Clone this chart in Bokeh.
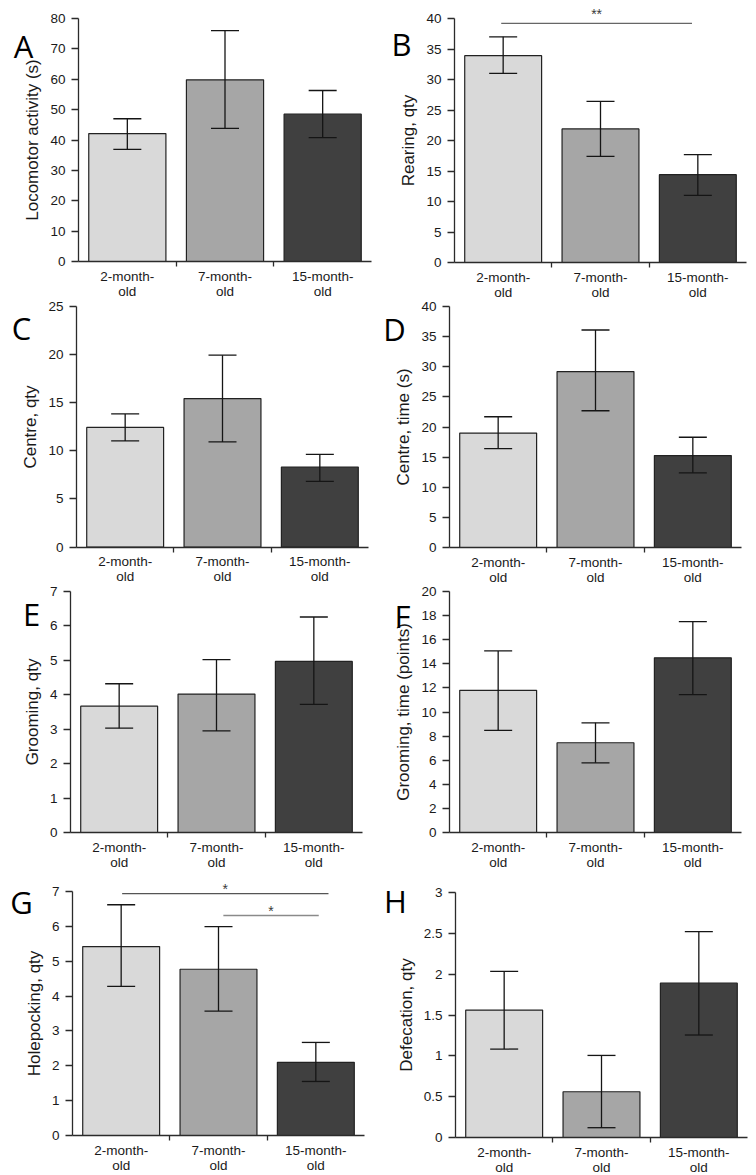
from bokeh.plotting import figure
from bokeh.models import Range1d, FixedTicker, Whisker, TeeHead, ColumnDataSource, Label
from bokeh.layouts import column, row
from bokeh.embed import file_html
from bokeh.resources import INLINE

# ---------------- data ----------------
categories = ["2-month-old", "7-month-old", "15-month-old"]
bar_colors = ["#d9d9d9", "#a6a6a6", "#404040"]

# A: Locomotor activity (s)
loco_mean = [42.1, 59.8, 48.5]
loco_upper = [47.0, 76.0, 56.3]
loco_lower = [36.9, 43.8, 40.8]
loco_ticks = [0, 10, 20, 30, 40, 50, 60, 70, 80]
loco_tick_labels = ["0", "10", "20", "30", "40", "50", "60", "70", "80"]

# B: Rearing, qty
rear_mean = [33.9, 21.9, 14.4]
rear_upper = [37.0, 26.4, 17.7]
rear_lower = [31.0, 17.4, 11.0]
rear_ticks = [0, 5, 10, 15, 20, 25, 30, 35, 40]
rear_tick_labels = ["0", "5", "10", "15", "20", "25", "30", "35", "40"]
rear_sig_x0 = [0.48]
rear_sig_x1 = [2.44]
rear_sig_y = [39.2]
rear_sig_text = ["**"]
rear_sig_text_y = [40.8]

# C: Centre, qty
cq_mean = [12.4, 15.4, 8.3]
cq_upper = [13.8, 19.9, 9.6]
cq_lower = [11.0, 10.9, 6.8]
cq_ticks = [0, 5, 10, 15, 20, 25]
cq_tick_labels = ["0", "5", "10", "15", "20", "25"]

# D: Centre, time (s)
ct_mean = [19.0, 29.2, 15.25]
ct_upper = [21.7, 36.1, 18.3]
ct_lower = [16.4, 22.7, 12.4]
ct_ticks = [0, 5, 10, 15, 20, 25, 30, 35, 40]
ct_tick_labels = ["0", "5", "10", "15", "20", "25", "30", "35", "40"]

# E: Grooming, qty
gq_mean = [3.67, 4.02, 4.97]
gq_upper = [4.32, 5.02, 6.26]
gq_lower = [3.03, 2.95, 3.72]
gq_ticks = [0, 1, 2, 3, 4, 5, 6, 7]
gq_tick_labels = ["0", "1", "2", "3", "4", "5", "6", "7"]

# F: Grooming, time (points)
gt_mean = [11.8, 7.45, 14.5]
gt_upper = [15.07, 9.1, 17.5]
gt_lower = [8.47, 5.78, 11.45]
gt_ticks = [0, 2, 4, 6, 8, 10, 12, 14, 16, 18, 20]
gt_tick_labels = ["0", "2", "4", "6", "8", "10", "12", "14", "16", "18", "20"]

# G: Holepocking, qty
hp_mean = [5.42, 4.77, 2.1]
hp_upper = [6.62, 5.99, 2.67]
hp_lower = [4.28, 3.57, 1.55]
hp_ticks = [0, 1, 2, 3, 4, 5, 6, 7]
hp_tick_labels = ["0", "1", "2", "3", "4", "5", "6", "7"]
hp_sig_x0 = [0.51, 1.55]
hp_sig_x1 = [2.63, 2.53]
hp_sig_y = [6.94, 6.31]
hp_sig_text = ["*", "*"]
hp_sig_text_y = [7.08, 6.44]

# H: Defecation, qty
df_mean = [1.56, 0.56, 1.89]
df_upper = [2.035, 1.005, 2.52]
df_lower = [1.083, 0.12, 1.255]
df_ticks = [0, 0.5, 1, 1.5, 2, 2.5, 3]
df_tick_labels = ["0", "0.5", "1", "1.5", "2", "2.5", "3"]

# ---------------- layout (page pixels) ----------------
FIG_W = 378
COL_X = [0, 378]
ROWS = [(0, 298), (298, 285), (583, 286), (869, 306)]

TICK_FONT = "Liberation Sans"
LETTER_FONT = "Open Sans"
AXIS_COLOR = "#2b2b2b"
TEXT_COLOR = "#1a1a1a"


def panel(col, rrow, geom, ylabel, ticks, tick_labels, mean, upper, lower,
          letter, letter_pos, sig=None):
    left, right, top, bottom = geom
    fig_x = COL_X[col]
    row_top, row_h = ROWS[rrow]
    n = len(categories)
    ymax = ticks[-1]

    def to_data(px, py):
        return ((px - left) / (right - left) * n,
                (bottom - py) / (bottom - top) * ymax)

    x0, y1 = to_data(fig_x, row_top)
    x1, y0 = to_data(fig_x + FIG_W, row_top + row_h)
    p = figure(width=FIG_W, height=row_h,
               x_range=Range1d(x0, x1), y_range=Range1d(y0, y1),
               min_border=0, min_border_left=0, min_border_right=0,
               min_border_top=0, min_border_bottom=0,
               output_backend="svg", toolbar_location=None, tools="")
    p.outline_line_color = None
    p.grid.visible = False
    p.background_fill_color = "white"
    p.border_fill_color = "white"

    xs = [i + 0.5 for i in range(n)]
    src = ColumnDataSource(dict(x=xs, mean=mean, upper=upper, lower=lower,
                                color=bar_colors))
    p.vbar(x="x", top="mean", bottom=0, width=0.79, fill_color="color",
           line_color="#222222", line_width=1.2, source=src)
    w = Whisker(base="x", upper="upper", lower="lower", source=src,
                line_color="#151515", line_width=1.3, level="overlay",
                upper_head=TeeHead(size=28, line_color="#151515", line_width=1.3),
                lower_head=TeeHead(size=28, line_color="#151515", line_width=1.3))
    p.add_layout(w)

    # y axis (drawn at x = 0 inside the frame)
    ya = p.yaxis[0]
    ya.fixed_location = 0
    ya.bounds = (0, ymax)
    ya.ticker = FixedTicker(ticks=ticks)
    ya.major_label_overrides = {t: s for t, s in zip(ticks, tick_labels)}
    ya.axis_label = ylabel
    ya.axis_label_text_font = TICK_FONT
    ya.axis_label_text_font_size = "17px"
    ya.axis_label_text_font_style = "normal"
    ya.axis_label_text_color = TEXT_COLOR
    ya.axis_label_standoff = 5
    ya.major_label_text_font = TICK_FONT
    ya.major_label_text_font_size = "13.5px"
    ya.major_label_text_color = TEXT_COLOR
    ya.major_label_standoff = 6
    ya.major_tick_out = 7
    ya.major_tick_in = 0
    ya.minor_tick_line_color = None
    ya.axis_line_color = AXIS_COLOR
    ya.axis_line_width = 1.3
    ya.major_tick_line_color = AXIS_COLOR
    ya.major_tick_line_width = 1.3

    # x axis (drawn at y = 0 inside the frame)
    xa = p.xaxis[0]
    xa.fixed_location = 0
    xa.bounds = (0, n)
    xa.ticker = FixedTicker(ticks=xs, minor_ticks=list(range(1, n)))
    xa.major_label_overrides = {x: c.replace("-old", "-\nold") for x, c in zip(xs, categories)}
    xa.major_label_text_font = TICK_FONT
    xa.major_label_text_font_size = "13.5px"
    xa.major_label_text_color = TEXT_COLOR
    xa.major_label_text_line_height = 1.0
    xa.major_label_standoff = 2
    xa.major_tick_out = 0
    xa.major_tick_in = 0
    xa.major_tick_line_color = None
    xa.minor_tick_out = 5
    xa.minor_tick_in = 0
    xa.minor_tick_line_color = AXIS_COLOR
    xa.minor_tick_line_width = 1.3
    xa.axis_line_color = AXIS_COLOR
    xa.axis_line_width = 1.3

    lx, ly = to_data(*letter_pos)
    p.add_layout(Label(x=lx, y=ly, text=letter, text_font=LETTER_FONT,
                       text_font_size="31px", text_align="center",
                       text_baseline="alphabetic", text_color="#000000"))

    if sig is not None:
        sx0, sx1, sy, texts, ty, colors = sig
        p.segment(x0=sx0, y0=sy, x1=sx1, y1=sy, line_color=colors, line_width=1.4)
        for a, b, t, tyv in zip(sx0, sx1, texts, ty):
            p.add_layout(Label(x=(a + b) / 2, y=tyv, text=t, text_font=TICK_FONT,
                               text_font_size="14px", text_align="center",
                               text_baseline="alphabetic", text_color="#3a3a3a"))
    return p


pA = panel(0, 0, (78, 371, 18, 261), "Locomotor activity (s)", loco_ticks, loco_tick_labels,
           loco_mean, loco_upper, loco_lower, "A", (23, 45))
pB = panel(1, 0, (454, 746, 18, 262), "Rearing, qty", rear_ticks, rear_tick_labels,
           rear_mean, rear_upper, rear_lower, "B", (401, 43),
           sig=(rear_sig_x0, rear_sig_x1, rear_sig_y, rear_sig_text, rear_sig_text_y,
                ["#666666"]))
pC = panel(0, 1, (76, 368, 305.5, 546.5), "Centre, qty", cq_ticks, cq_tick_labels,
           cq_mean, cq_upper, cq_lower, "C", (21, 327))
pD = panel(1, 1, (449, 741, 306, 547), "Centre, time (s)", ct_ticks, ct_tick_labels,
           ct_mean, ct_upper, ct_lower, "D", (394, 328))
pE = panel(0, 2, (70, 362, 591, 832), "Grooming, qty", gq_ticks, gq_tick_labels,
           gq_mean, gq_upper, gq_lower, "E", (31, 613))
pF = panel(1, 2, (449, 741, 591, 832), "Grooming, time (points)", gt_ticks, gt_tick_labels,
           gt_mean, gt_upper, gt_lower, "F", (402, 615))
pG = panel(0, 3, (72, 364, 891, 1135), "Holepocking, qty", hp_ticks, hp_tick_labels,
           hp_mean, hp_upper, hp_lower, "G", (21, 901),
           sig=(hp_sig_x0, hp_sig_x1, hp_sig_y, hp_sig_text, hp_sig_text_y,
                ["#555555", "#8a8a8a"]))
pH = panel(1, 3, (455, 747, 892, 1137), "Defecation, qty", df_ticks, df_tick_labels,
           df_mean, df_upper, df_lower, "H", (395, 900))

layout = column(row(pA, pB, spacing=0), row(pC, pD, spacing=0),
                row(pE, pF, spacing=0), row(pG, pH, spacing=0), spacing=0)

open("out.html", "w").write(file_html(layout, INLINE))
